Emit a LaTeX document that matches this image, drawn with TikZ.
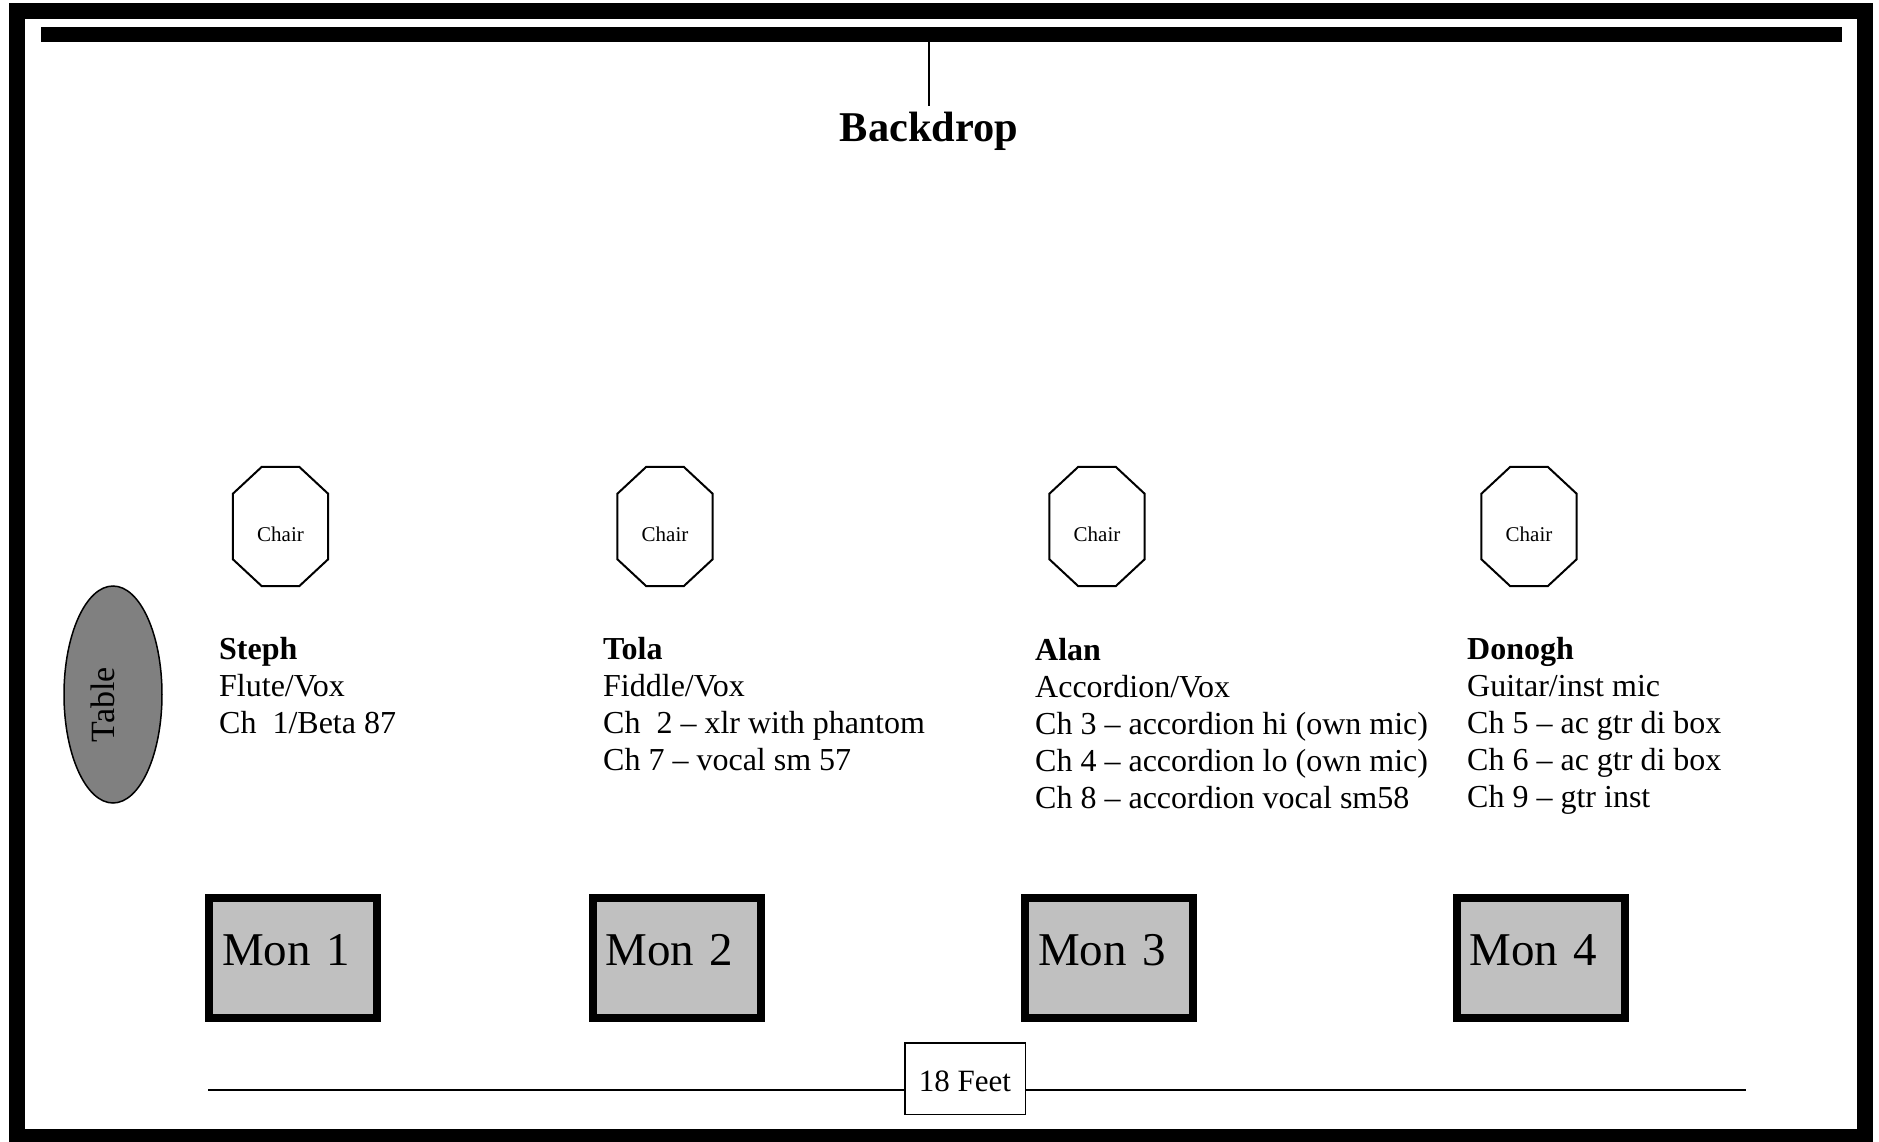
\documentclass[tikz,border=0pt]{standalone}
\usepackage{fontspec}
\setmainfont{Liberation Serif}
\usetikzlibrary{shapes.geometric,calc}
\definecolor{monfill}{RGB}{192,192,192}
\definecolor{tablefill}{RGB}{128,128,128}
\begin{document}
\begin{tikzpicture}[x=1pt,y=-1pt,
  frame/.style={draw=black,line width=16pt},
  chairbox/.style={rectangle,minimum width=95pt,minimum height=119pt,inner sep=0pt,font=\fontsize{21}{25}\selectfont,text height=29pt,text depth=0pt},
  chairline/.style={line width=2pt,line join=miter},
  monbox/.style={rectangle,draw=black,line width=8pt,fill=monfill,minimum width=168pt,minimum height=120pt,inner xsep=13pt,inner ysep=0pt,text width=142pt,align=left,font=\fontsize{47}{56}\selectfont,text height=31pt,text depth=17pt},
  info/.style={anchor=base west,inner sep=0pt,font=\fontsize{32}{37}\selectfont},
  thinline/.style={line width=1.5pt},
]
\fill[white] (0,0) rectangle (1879,1142);
\useasboundingbox (0,0) rectangle (1879,1142);
\draw[frame] (17,11) rectangle (1865,1137);

% backdrop
\node[fill=black,inner sep=0pt,minimum width=1801pt,minimum height=15pt] (bar) at (941.5,34.5) {};
\node[anchor=base,inner sep=0pt,font=\bfseries\fontsize{42.4}{50}\selectfont] (bdlabel) at (929,142) {Backdrop};
\draw[thinline,shorten >=6pt] (bar.south -| bdlabel.north) -- (bdlabel.north);

% chairs
\node[chairbox] (ch1) at (280.5,526.5) {Chair};
\node[chairbox] (ch2) at (665,526.5) {Chair};
\node[chairbox] (ch3) at (1097,526.5) {Chair};
\node[chairbox] (ch4) at (1529,526.5) {Chair};
\foreach \c in {ch1,ch2,ch3,ch4}{
  \draw[chairline] ($(\c.north west)+(29,0)$) -- ($(\c.north east)+(-29,0)$) -- ($(\c.north east)+(0,27)$) -- ($(\c.south east)+(0,-27)$) -- ($(\c.south east)+(-29,0)$) -- ($(\c.south west)+(29,0)$) -- ($(\c.south west)+(0,-27)$) -- ($(\c.north west)+(0,27)$) -- cycle;
}

% table
\node[ellipse,draw=black,line width=1.5pt,fill=tablefill,rotate=90,minimum width=217pt,minimum height=98pt,inner sep=0pt,font=\fontsize{34}{40}\selectfont,text height=23pt,text depth=21pt] (table) at (113,694.5) {Table\hspace*{20pt}};

% players
\node[info] (steph) at (219,659) {\begin{tabular}[t]{@{}l@{}}\textbf{Steph}\\Flute/Vox\\Ch\ \ 1/Beta 87\end{tabular}};
\node[info] (tola) at (603,659) {\begin{tabular}[t]{@{}l@{}}\textbf{Tola}\\Fiddle/Vox\\Ch\ \ 2 – xlr with phantom\\Ch 7 – vocal sm 57\end{tabular}};
\node[info] (alan) at (1035,660) {\begin{tabular}[t]{@{}l@{}}\textbf{Alan}\\Accordion/Vox\\Ch 3 – accordion hi (own mic)\\Ch 4 – accordion lo (own mic)\\Ch 8 – accordion vocal sm58\end{tabular}};
\node[info] (donogh) at (1467,659) {\begin{tabular}[t]{@{}l@{}}\textbf{Donogh}\\Guitar/inst mic\\Ch 5 – ac gtr di box\\Ch 6 – ac gtr di box\\Ch 9 – gtr inst\end{tabular}};

% monitors
\node[monbox] (mon1) at (293,958) {Mon 1};
\node[monbox] (mon2) at (676.5,958) {Mon 2};
\node[monbox] (mon3) at (1109,958) {Mon 3};
\node[monbox] (mon4) at (1540.5,958) {Mon 4};

% 18 feet
\coordinate (ruleL) at (208,1090);
\coordinate (ruleR) at (1746,1090);
\node[draw=black,line width=1.5pt,fill=white,minimum width=120.5pt,minimum height=71.5pt,inner sep=0pt,font=\fontsize{31}{37}\selectfont,text height=25pt,text depth=0pt] (feet) at (965,1078.5) {18 Feet};
\draw[thinline] (ruleL) -- (ruleL -| feet.west);
\draw[thinline] (ruleR -| feet.east) -- (ruleR);
\end{tikzpicture}
\end{document}
